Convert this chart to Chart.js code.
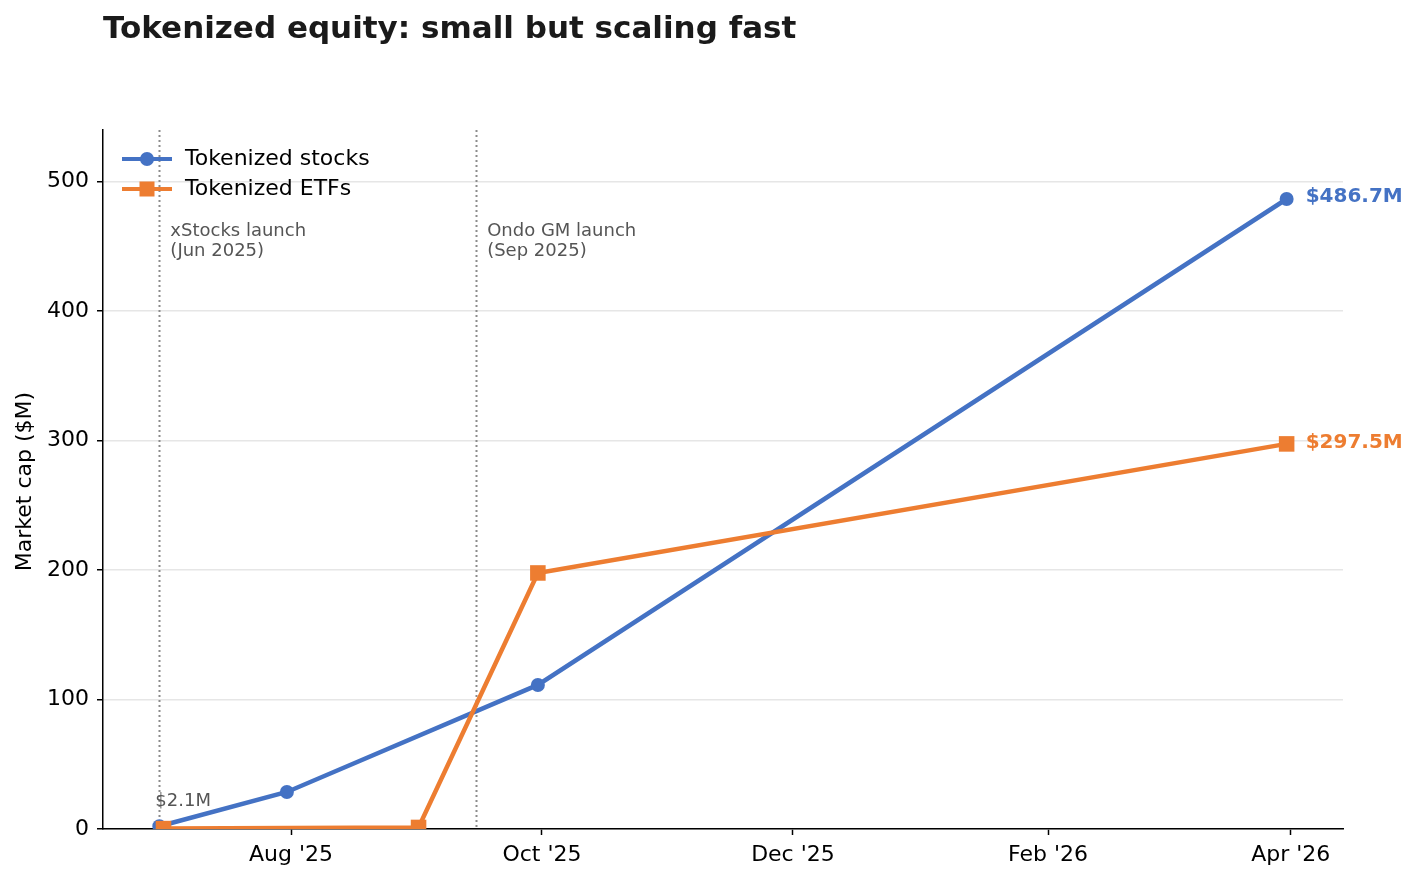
<!DOCTYPE html>
<html lang="en">
<head>
  <meta charset="UTF-8" />
  <title>Tokenized equity: small but scaling fast</title>
  <script src="https://cdn.jsdelivr.net/npm/chart.js"></script>
  <style>
    html, body { margin: 0; padding: 0; background: #fff; }
    #wrap { width: 1418px; height: 881px; position: relative; }
  </style>
</head>
<body>
  <div id="wrap"><canvas id="chart"></canvas></div>

  <script>
    // data
    const stockDates = ['2025-06-30', '2025-07-31', '2025-09-30', '2026-03-31'];
    const stockValues = [2.1, 28.6, 111.3, 486.7];
    const etfDates = ['2025-07-01', '2025-09-01', '2025-09-30', '2026-03-31'];
    const etfValues = [0.3, 1.2, 197.8, 297.5];
    const xTickDates = ['2025-08-01', '2025-10-01', '2025-12-01', '2026-02-01', '2026-04-01'];
    const xTickLabels = ["Aug '25", "Oct '25", "Dec '25", "Feb '26", "Apr '26"];
    const yTicks = [0, 100, 200, 300, 400, 500];
    const eventDates = ['2025-06-30', '2025-09-15'];
    const eventLabels = [['xStocks launch', '(Jun 2025)'], ['Ondo GM launch', '(Sep 2025)']];

    const BLUE = '#4472C4';
    const ORANGE = '#ED7D31';
    const FONT = "'DejaVu Sans', sans-serif";

    const ms = s => Date.parse(s);
    const firstX = ms(stockDates[0]);
    const lastX = ms(stockDates[stockDates.length - 1]);
    const pad = (lastX - firstX) * 0.05;

    const overlay = {
      id: 'overlay',
      beforeDatasetsDraw(chart) {
        const { ctx, chartArea, scales } = chart;
        ctx.save();
        ctx.strokeStyle = '#8c8c8c';
        ctx.lineWidth = 2;
        ctx.setLineDash([2, 3]);
        eventDates.forEach(d => {
          const x = Math.round(scales.x.getPixelForValue(ms(d))) + 0.5;
          ctx.beginPath();
          ctx.moveTo(x, chartArea.top);
          ctx.lineTo(x, chartArea.bottom);
          ctx.stroke();
        });
        ctx.restore();
      },
      afterDraw(chart) {
        const { ctx, scales, chartArea } = chart;
        const xs = scales.x, ys = scales.y;
        ctx.save();

        // title
        ctx.fillStyle = '#1a1a1a';
        ctx.font = 'bold 31px ' + FONT;
        ctx.textBaseline = 'middle';
        ctx.textAlign = 'left';
        ctx.fillText('Tokenized equity: small but scaling fast', 103, 30);

        // y axis title
        ctx.save();
        ctx.translate(25, (chartArea.top + chartArea.bottom) / 2 + 2);
        ctx.rotate(-Math.PI / 2);
        ctx.textAlign = 'center';
        ctx.textBaseline = 'middle';
        ctx.fillStyle = '#000';
        ctx.font = '22px ' + FONT;
        ctx.fillText('Market cap ($M)', 0, 0);
        ctx.restore();

        // event labels
        ctx.fillStyle = '#555555';
        ctx.font = '18px ' + FONT;
        ctx.textBaseline = 'alphabetic';
        eventDates.forEach((d, i) => {
          const x = xs.getPixelForValue(ms(d)) + 11;
          eventLabels[i].forEach((t, j) => ctx.fillText(t, x, 236 + j * 20));
        });

        // first value label
        ctx.fillText('$' + stockValues[0] + 'M', xs.getPixelForValue(firstX) - 4, 806);

        // end labels
        ctx.font = 'bold 20px ' + FONT;
        ctx.textBaseline = 'middle';
        const endX = xs.getPixelForValue(lastX) + 19;
        ctx.fillStyle = BLUE;
        ctx.fillText('$' + stockValues[stockValues.length - 1] + 'M', endX, ys.getPixelForValue(stockValues[stockValues.length - 1]) - 2);
        ctx.fillStyle = ORANGE;
        ctx.fillText('$' + etfValues[etfValues.length - 1] + 'M', endX, ys.getPixelForValue(etfValues[etfValues.length - 1]) - 1);

        // legend
        const rows = [
          { label: 'Tokenized stocks', color: BLUE, shape: 'circle', y: 159 },
          { label: 'Tokenized ETFs', color: ORANGE, shape: 'square', y: 189 }
        ];
        rows.forEach(r => {
          ctx.strokeStyle = r.color;
          ctx.fillStyle = r.color;
          ctx.lineWidth = 4;
          ctx.beginPath();
          ctx.moveTo(122, r.y);
          ctx.lineTo(172, r.y);
          ctx.stroke();
          if (r.shape === 'circle') {
            ctx.beginPath();
            ctx.arc(147, r.y, 7, 0, Math.PI * 2);
            ctx.fill();
          } else {
            ctx.fillRect(139.5, r.y - 7.5, 15, 15);
          }
          ctx.fillStyle = '#000';
          ctx.font = '22px ' + FONT;
          ctx.textBaseline = 'middle';
          ctx.fillText(r.label, 185, r.y);
        });

        ctx.restore();
      }
    };

    const ctx = document.getElementById('chart').getContext('2d');
    new Chart(ctx, {
      type: 'line',
      data: {
        datasets: [
          {
            label: 'Tokenized stocks',
            data: stockDates.map((d, i) => ({ x: ms(d), y: stockValues[i] })),
            borderColor: BLUE,
            backgroundColor: BLUE,
            borderWidth: 4.5,
            pointStyle: 'circle',
            pointRadius: 7,
            pointBorderWidth: 0,
            order: 1
          },
          {
            label: 'Tokenized ETFs',
            data: etfDates.map((d, i) => ({ x: ms(d), y: etfValues[i] })),
            borderColor: ORANGE,
            backgroundColor: ORANGE,
            borderWidth: 4.5,
            pointStyle: 'rect',
            pointRadius: 11,
            pointBorderWidth: 0,
            order: 0
          }
        ]
      },
      options: {
        responsive: true,
        maintainAspectRatio: false,
        animation: false,
        events: [],
        layout: { padding: { top: 130, right: 75, left: 0, bottom: 0 } },
        plugins: {
          legend: { display: false },
          title: { display: false },
          tooltip: { enabled: false }
        },
        scales: {
          x: {
            type: 'linear',
            min: firstX - pad,
            max: lastX + pad,
            afterBuildTicks: s => { s.ticks = xTickDates.map(d => ({ value: ms(d) })); },
            afterFit: s => { s.height = 52; },
            ticks: {
              autoSkip: false,
              maxRotation: 0,
              padding: 7,
              color: '#000',
              font: { family: FONT, size: 22 },
              callback: (v, i) => xTickLabels[i]
            },
            grid: { drawOnChartArea: false, drawTicks: true, tickLength: 6, tickColor: '#000', tickWidth: 1.5 },
            border: { color: '#000', width: 1.5 }
          },
          y: {
            min: 0,
            max: 540,
            afterBuildTicks: s => { s.ticks = yTicks.map(v => ({ value: v })); },
            afterFit: s => { s.width = 103; },
            ticks: {
              padding: 8,
              color: '#000',
              font: { family: FONT, size: 22 },
              callback: v => String(v)
            },
            grid: { color: '#e6e6e6', lineWidth: 1.5, drawTicks: true, tickLength: 6, tickColor: '#000', tickWidth: 1.5 },
            border: { color: '#000', width: 1.5 }
          }
        }
      },
      plugins: [overlay]
    });
  </script>
</body>
</html>
